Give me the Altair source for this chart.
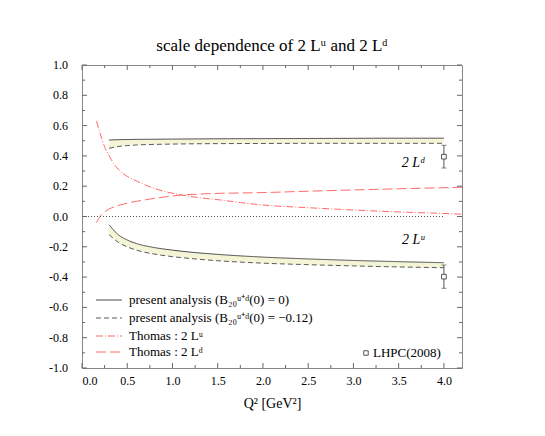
import altair as alt
import pandas as pd

# ---- data ----
band_x = [0.3, 0.4, 0.5, 0.6, 0.8, 1.0, 1.25, 1.5, 2.0, 2.5, 3.0, 3.5, 4.0]
d_solid = [0.505, 0.507, 0.508, 0.509, 0.510, 0.511, 0.512, 0.513, 0.514, 0.515, 0.516, 0.517, 0.517]
d_dashed = [0.450, 0.462, 0.468, 0.472, 0.476, 0.478, 0.480, 0.481, 0.482, 0.483, 0.483, 0.483, 0.483]
u_solid = [-0.055, -0.120, -0.155, -0.178, -0.205, -0.222, -0.238, -0.250, -0.268, -0.280, -0.290, -0.298, -0.305]
u_dashed = [-0.120, -0.170, -0.200, -0.222, -0.248, -0.265, -0.280, -0.292, -0.308, -0.318, -0.326, -0.333, -0.338]

t_x = [0.16, 0.2, 0.25, 0.3, 0.35, 0.42, 0.5, 0.6, 0.7, 0.8, 0.95, 1.1, 1.3, 1.53, 1.75, 2.0, 2.5, 3.0, 3.5, 4.0, 4.2]
thomas_u = [0.63, 0.55, 0.46, 0.40, 0.35, 0.30, 0.265, 0.235, 0.208, 0.185, 0.16, 0.142, 0.124, 0.109, 0.092, 0.076, 0.058, 0.043, 0.030, 0.020, 0.015]
thomas_d = [-0.04, 0.0, 0.03, 0.05, 0.062, 0.076, 0.088, 0.10, 0.11, 0.12, 0.132, 0.142, 0.148, 0.153, 0.155, 0.158, 0.167, 0.175, 0.183, 0.190, 0.193]

lhpc_x = [4.0, 4.0]
lhpc_y = [0.395, -0.397]
lhpc_err = [0.075, 0.077]
lhpc_label = "LHPC(2008)"

series_names = [
    "present analysis (B\u2082\u2080\u1d58\u207a\u1d48(0) = 0)",
    "present analysis (B\u2082\u2080\u1d58\u207a\u1d48(0) = \u22120.12)",
    "Thomas : 2 L\u1d58",
    "Thomas : 2 L\u1d48",
]
series_colors = ["#4a4a4a", "#5a5a5a", "#ff6a6a", "#ff6a6a"]
series_dash = [[1, 0], [5, 3], [7, 2, 1, 2], [10, 4]]

x_major = [0.0, 0.5, 1.0, 1.5, 2.0, 2.5, 3.0, 3.5, 4.0]
x_minor = [0.25, 0.75, 1.25, 1.75, 2.25, 2.75, 3.25, 3.75]
y_major = [-1.0, -0.8, -0.6, -0.4, -0.2, 0.0, 0.2, 0.4, 0.6, 0.8, 1.0]
y_labels = ["-1.0", "-0.8", "-0.6", "-0.4", "-0.2", "0.0", "0.2", "0.4", "0.6", "0.8", "1.0"]
y_minor = [-0.9, -0.7, -0.5, -0.3, -0.1, 0.1, 0.3, 0.5, 0.7, 0.9]

W, H = 380, 303
FONT = "Liberation Serif"

# ---- tables ----
rows = []
for br, s, dd in [("d", d_solid, d_dashed), ("u", u_solid, u_dashed)]:
    for xv, a, b in zip(band_x, s, dd):
        rows.append({"x": xv, "s": a, "dd": b, "branch": br})
band = pd.DataFrame(rows)

lrows = []
for br, s, dd in [("d", d_solid, d_dashed), ("u", u_solid, u_dashed)]:
    for xv, a in zip(band_x, s):
        lrows.append({"x": xv, "y": a, "series": series_names[0], "grp": "s" + br})
    for xv, b in zip(band_x, dd):
        lrows.append({"x": xv, "y": b, "series": series_names[1], "grp": "d" + br})
for xv, a, b in zip(t_x, thomas_u, thomas_d):
    lrows.append({"x": xv, "y": a, "series": series_names[2], "grp": "tu"})
    lrows.append({"x": xv, "y": b, "series": series_names[3], "grp": "td"})
lines = pd.DataFrame(lrows)

pts = pd.DataFrame({
    "x": lhpc_x, "y": lhpc_y,
    "lo": [v - e for v, e in zip(lhpc_y, lhpc_err)],
    "hi": [v + e for v, e in zip(lhpc_y, lhpc_err)],
})

xs = alt.Scale(domain=[0, 4.2], nice=False, zero=False)
ys = alt.Scale(domain=[-1.0, 1.0], nice=False, zero=False)

xaxis = alt.Axis(values=x_major, format=".1f", ticks=False, domain=False, grid=False,
                 labelFont=FONT, labelFontSize=12, labelColor="#000", labelPadding=7,
                 labelOverlap=False,
                 title="Q\u00b2 [GeV\u00b2]", titleFont=FONT, titleFontSize=14,
                 titleFontWeight="normal", titleColor="#000", titlePadding=10)
yaxis = alt.Axis(labels=False, ticks=False, domain=False, grid=False, title=None)

area = alt.Chart(band).mark_area(color="#f4f4d6", opacity=1).encode(
    x=alt.X("x:Q", scale=xs, axis=xaxis),
    y=alt.Y("s:Q", scale=ys, axis=yaxis),
    y2="dd:Q",
    detail="branch:N",
)

line_layer = alt.Chart(lines).mark_line(strokeWidth=1, interpolate="monotone").encode(
    x=alt.X("x:Q", scale=xs),
    y=alt.Y("y:Q", scale=ys),
    detail="grp:N",
    color=alt.Color("series:N", scale=alt.Scale(domain=series_names, range=series_colors),
                    legend=None),
    strokeDash=alt.StrokeDash("series:N", scale=alt.Scale(domain=series_names, range=series_dash),
                              legend=None),
)

zero = alt.Chart(pd.DataFrame({"x": [0.0], "x2": [4.0], "y": [0.0]})).mark_rule(
    color="#555", strokeDash=[1, 2], strokeWidth=1
).encode(x=alt.X("x:Q", scale=xs), x2="x2:Q", y=alt.Y("y:Q", scale=ys))

err = alt.Chart(pts).mark_errorbar(ticks=True, color="#555").encode(
    x=alt.X("x:Q", scale=xs),
    y=alt.Y("lo:Q", scale=ys, title=None),
    y2="hi:Q",
)
points = alt.Chart(pts).mark_point(shape="square", filled=True, fill="white", stroke="#555",
                                   strokeWidth=1, size=22, opacity=1).encode(
    x=alt.X("x:Q", scale=xs),
    y=alt.Y("y:Q", scale=ys),
)

ann = alt.Chart(pd.DataFrame({"x": [3.66, 3.66], "y": [0.353, -0.155],
                              "t": ["2 L\u1d48", "2 L\u1d58"]})).mark_text(
    font=FONT, fontSize=14, fontStyle="italic", color="#000"
).encode(x=alt.X("x:Q", scale=xs), y=alt.Y("y:Q", scale=ys), text="t:N")

# y tick labels placed through the y scale
ylab = alt.Chart(pd.DataFrame({"v": y_major, "t": y_labels})).mark_text(
    font=FONT, fontSize=12, color="#000", align="right", baseline="middle"
).encode(x=alt.value(-14), y=alt.Y("v:Q", scale=ys), text="t:N")

# ---- manual legend (pixel layout inside the plot area) ----
leg_y = [235, 253, 271, 287]
leg_layers = []
for name, col, dash, py in zip(series_names, series_colors, series_dash, leg_y):
    leg_layers.append(
        alt.Chart(pd.DataFrame({"n": [name]})).mark_rule(color=col, strokeDash=dash, strokeWidth=1)
        .encode(x=alt.value(14), x2=alt.value(40), y=alt.value(py))
    )
    leg_layers.append(
        alt.Chart(pd.DataFrame({"t": [name]})).mark_text(
            font=FONT, fontSize=13, color="#000", align="left", baseline="middle"
        ).encode(x=alt.value(47), y=alt.value(py), text="t:N")
    )
leg_sq = alt.Chart(pd.DataFrame({"n": [lhpc_label]})).mark_point(
    shape="square", filled=True, fill="white", stroke="#555", strokeWidth=1, size=20, opacity=1
).encode(x=alt.value(284), y=alt.value(288))
leg_sq_text = alt.Chart(pd.DataFrame({"t": [lhpc_label]})).mark_text(
    font=FONT, fontSize=13, color="#000", align="left", baseline="middle"
).encode(x=alt.value(291), y=alt.value(288), text="t:N")

def tick_rules(vals, orient, length):
    df = pd.DataFrame({"v": vals})
    m = alt.Chart(df).mark_rule(color="#666", strokeWidth=1)
    if orient == "bottom":
        return m.encode(x=alt.X("v:Q", scale=xs), y=alt.value(H), y2=alt.value(H - length))
    if orient == "top":
        return m.encode(x=alt.X("v:Q", scale=xs), y=alt.value(0), y2=alt.value(length))
    if orient == "left":
        return m.encode(y=alt.Y("v:Q", scale=ys), x=alt.value(0), x2=alt.value(length))
    return m.encode(y=alt.Y("v:Q", scale=ys), x=alt.value(W), x2=alt.value(W - length))

ticks = []
for o in ["bottom", "top"]:
    ticks.append(tick_rules(x_major, o, 5))
    ticks.append(tick_rules(x_minor, o, 3))
for o in ["left", "right"]:
    ticks.append(tick_rules(y_major, o, 5))
    ticks.append(tick_rules(y_minor, o, 3))

chart = alt.layer(area, line_layer, zero, *ticks, err, points, ann, ylab,
                  *leg_layers, leg_sq, leg_sq_text).properties(
    width=W, height=H,
    title=alt.TitleParams("scale dependence of 2 L\u1d58 and 2 L\u1d48", font=FONT, fontSize=17,
                          fontWeight="normal", color="#000", anchor="middle", offset=4),
    autosize=alt.AutoSizeParams(type="none"),
    padding={"left": 74, "top": 57, "right": 75, "bottom": 60},
).configure_view(stroke="#888", strokeWidth=1).configure_axis(labelOverlap=False)

chart.save("out.html", embed_options={"renderer": "svg", "actions": False})
